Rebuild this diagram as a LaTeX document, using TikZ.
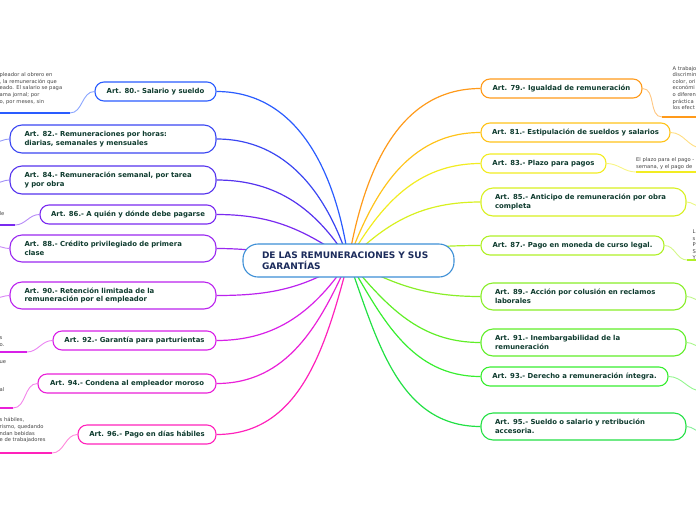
\documentclass[tikz,border=0pt]{standalone}
\usepackage{fontspec}
\setmainfont{DejaVu Sans}
\usetikzlibrary{backgrounds}
\definecolor{c80}{HTML}{2A5CFF}
\definecolor{c82}{HTML}{3A46F2}
\definecolor{c84}{HTML}{5533EE}
\definecolor{c86}{HTML}{7A2AF0}
\definecolor{c88}{HTML}{9A28F0}
\definecolor{c90}{HTML}{BB22EE}
\definecolor{c92}{HTML}{D820E8}
\definecolor{c94}{HTML}{EA20D8}
\definecolor{c96}{HTML}{FF22BB}
\definecolor{c79}{HTML}{FF9A1A}
\definecolor{c81}{HTML}{FFC31A}
\definecolor{c83}{HTML}{F2EC22}
\definecolor{c85}{HTML}{D8F020}
\definecolor{c87}{HTML}{B0F028}
\definecolor{c89}{HTML}{88EE28}
\definecolor{c91}{HTML}{60EE28}
\definecolor{c93}{HTML}{38EE30}
\definecolor{c95}{HTML}{22E044}
\definecolor{rootc}{HTML}{3D8FD6}
\definecolor{roottxt}{HTML}{1B2B5B}
\definecolor{arttxt}{HTML}{0E3B2E}
\definecolor{leaftxt}{HTML}{444444}
\newcommand{\artfont}{\fontsize{6.9}{8.8}\selectfont\bfseries}
\newcommand{\leaffont}{\fontsize{5.2}{6.6}\selectfont}
\tikzset{
  art/.style={draw=#1, fill=white, line width=1.1pt, rounded corners=9pt,
    align=left, font=\artfont, text=arttxt, inner xsep=8pt, inner ysep=2pt},
  arttwo/.style={art=#1, rounded corners=12pt, inner xsep=14pt, text width=177pt},
  conn/.style={draw=#1, line width=1.2pt},
  leafc/.style={draw=#1!55, line width=0.9pt},
  leafu/.style={draw=#1, line width=2.2pt},
  leaft/.style={font=\leaffont, text=leaftxt, align=left, inner sep=0pt, anchor=north west}
}
\begin{document}
\begin{tikzpicture}[x=1pt,y=-1pt]
\useasboundingbox (0,0) rectangle (696,520);
% root
\node[draw=rootc, fill=white, line width=1.1pt, rounded corners=15pt,
  minimum width=211, minimum height=33, align=left, inner xsep=19pt, text width=173pt,
  font=\fontsize{9}{11}\selectfont\bfseries, text=roottxt] (root) at (348.5,260.5)
  {DE LAS REMUNERACIONES Y SUS\\GARANTÍAS};
% left nodes
\node[art=c80, minimum width=121, minimum height=19] (l80) at (155.5,91.5) {Art. 80.- Salario y sueldo};
\node[arttwo=c82, minimum width=206, minimum height=28] (l82) at (113,139) {Art. 82.- Remuneraciones por horas:\\diarias, semanales y mensuales};
\node[arttwo=c84, minimum width=206, minimum height=28] (l84) at (113,180) {Art. 84.- Remuneración semanal, por tarea\\y por obra};
\node[art=c86, minimum width=176, minimum height=19] (l86) at (128,214.5) {Art. 86.- A quién y dónde debe pagarse};
\node[arttwo=c88, minimum width=206, minimum height=27] (l88) at (113,248.5) {Art. 88.- Crédito privilegiado de primera\\clase};
\node[arttwo=c90, minimum width=206, minimum height=27] (l90) at (113,295.5) {Art. 90.- Retención limitada de la\\remuneración por el empleador};
\node[art=c92, minimum width=163, minimum height=19] (l92) at (134.5,340.5) {Art. 92.- Garantía para parturientas};
\node[art=c94, minimum width=178, minimum height=19] (l94) at (127,383.5) {Art. 94.- Condena al empleador moroso};
\node[art=c96, minimum width=138, minimum height=19] (l96) at (147,434.5) {Art. 96.- Pago en días hábiles};
% right nodes
\node[art=c79, minimum width=161, minimum height=19] (r79) at (561.5,88.5) {Art. 79.- Igualdad de remuneración};
\node[art=c81, minimum width=189, minimum height=19] (r81) at (575.5,132.5) {Art. 81.- Estipulación de sueldos y salarios};
\node[art=c83, minimum width=125, minimum height=19] (r83) at (543.5,163.5) {Art. 83.- Plazo para pagos};
\node[arttwo=c85, minimum width=205, minimum height=28] (r85) at (583.5,202) {Art. 85.- Anticipo de remuneración por obra\\completa};
\node[art=c87, minimum width=183, minimum height=19] (r87) at (572.5,245.5) {Art. 87.- Pago en moneda de curso legal.};
\node[arttwo=c89, minimum width=205, minimum height=27] (r89) at (583.5,296.5) {Art. 89.- Acción por colusión en reclamos\\laborales};
\node[arttwo=c91, minimum width=205, minimum height=27] (r91) at (583.5,342.5) {Art. 91.- Inembargabilidad de la\\remuneración};
\node[art=c93, minimum width=187, minimum height=19] (r93) at (574.5,376.5) {Art. 93.- Derecho a remuneración íntegra.};
\node[arttwo=c95, minimum width=205, minimum height=27] (r95) at (583.5,426.5) {Art. 95.- Sueldo o salario y retribución\\accesoria.};
% leaf texts
\node[leaft] (t80) at (-0.5,72.5) {pleador al obrero en\\, la remuneración que\\eado. El salario se paga\\ama jornal; por\\o, por meses, sin};
\node[leaft] (t86) at (-0.5,211) {le};
\node[leaft] (t92) at (-0.5,336.5) {s\\o.};
\node[leaft] (t94a) at (-0.5,360.5) {ue};
\node[leaft] (t94b) at (-0.5,387.5) {al};
\node[leaft] (t96) at (-0.5,417.5) {s hábiles,\\rismo, quedando\\ndan bebidas\\e de trabajadores};
\node[leaft] (t79) at (672.5,66) {A trabajo\\discrimin\\color, ori\\económi\\o diferen\\práctica\\los efect};
\node[leaft] (t83) at (636,157.5) {El plazo para el pago -\\semana, y el pago de};
\node[leaft] (t87) at (692.5,229.5) {L\\s\\P\\S\\Y};
% leaf coordinates
\coordinate (a80) at (70,113); \coordinate (b80) at (-5,113);
\coordinate (a86) at (15,225); \coordinate (b86) at (-5,225);
\coordinate (a92) at (27,352); \coordinate (b92) at (-5,352);
\coordinate (a94) at (13,408); \coordinate (b94) at (-5,408);
\coordinate (a96) at (52,453); \coordinate (b96) at (-5,453);
\coordinate (e82) at (-5,142);
\coordinate (e84) at (-5,183);
\coordinate (e88) at (-5,246);
\coordinate (e90) at (-5,298);
\coordinate (a79) at (662,117); \coordinate (b79) at (702,117);
\coordinate (a83) at (636,172); \coordinate (b83) at (702,172);
\coordinate (a87) at (687,260); \coordinate (b87) at (702,260);
\coordinate (e81) at (702,148);
\coordinate (e85) at (702,207);
\coordinate (e89) at (702,301);
\coordinate (e91) at (702,347);
\coordinate (e93) at (702,391);
\coordinate (e95) at (702,432);
\begin{pgfonlayer}{background}
% hub connectors
\draw[conn=c80] (root.center) to[out=98,in=0] (l80.east);
\draw[conn=c82] (root.center) to[out=108,in=0] (l82.east);
\draw[conn=c84] (root.center) to[out=122,in=0] (l84.east);
\draw[conn=c86] (root.center) to[out=145,in=0] (l86.east);
\draw[conn=c88] (root.center) to[out=178,in=0] (l88.east);
\draw[conn=c90] (root.center) to[out=212,in=0] (l90.east);
\draw[conn=c92] (root.center) to[out=236,in=0] (l92.east);
\draw[conn=c94] (root.center) to[out=246,in=0] (l94.east);
\draw[conn=c96] (root.center) to[out=255,in=0] (l96.east);
\draw[conn=c79] (root.center) to[out=80,in=180] (r79.west);
\draw[conn=c81] (root.center) to[out=70,in=180] (r81.west);
\draw[conn=c83] (root.center) to[out=60,in=180] (r83.west);
\draw[conn=c85] (root.center) to[out=45,in=180] (r85.west);
\draw[conn=c87] (root.center) to[out=12,in=180] (r87.west);
\draw[conn=c89] (root.center) to[out=-28,in=180] (r89.west);
\draw[conn=c91] (root.center) to[out=-50,in=180] (r91.west);
\draw[conn=c93] (root.center) to[out=-60,in=180] (r93.west);
\draw[conn=c95] (root.center) to[out=-70,in=180] (r95.west);
\end{pgfonlayer}
% leaf connectors
\draw[leafc=c80] (l80.west) to[out=180,in=0] (a80);
\draw[leafu=c80] (a80) -- (b80);
\draw[leafc=c86] (l86.west) to[out=180,in=0] (a86);
\draw[leafu=c86] (a86) -- (b86);
\draw[leafc=c92] (l92.west) to[out=180,in=0] (a92);
\draw[leafu=c92] (a92) -- (b92);
\draw[leafc=c94] (l94.west) to[out=180,in=0] (a94);
\draw[leafu=c94] (a94) -- (b94);
\draw[leafc=c96] (l96.west) to[out=180,in=0] (a96);
\draw[leafu=c96] (a96) -- (b96);
\draw[leafc=c82] (l82.west) to[out=180,in=0] (e82);
\draw[leafc=c84] (l84.west) to[out=180,in=0] (e84);
\draw[leafc=c88] (l88.west) to[out=180,in=0] (e88);
\draw[leafc=c90] (l90.west) to[out=180,in=0] (e90);
\draw[leafc=c79] (r79.east) to[out=0,in=180] (a79);
\draw[leafu=c79] (a79) -- (b79);
\draw[leafc=c83] (r83.east) to[out=0,in=180] (a83);
\draw[leafu=c83] (a83) -- (b83);
\draw[leafc=c87] (r87.east) to[out=0,in=180] (a87);
\draw[leafu=c87] (a87) -- (b87);
\draw[leafc=c81] (r81.east) to[out=0,in=180] (e81);
\draw[leafc=c85] (r85.east) to[out=0,in=180] (e85);
\draw[leafc=c89] (r89.east) to[out=0,in=180] (e89);
\draw[leafc=c91] (r91.east) to[out=0,in=180] (e91);
\draw[leafc=c93] (r93.east) to[out=0,in=180] (e93);
\draw[leafc=c95] (r95.east) to[out=0,in=180] (e95);
\end{tikzpicture}
\end{document}
